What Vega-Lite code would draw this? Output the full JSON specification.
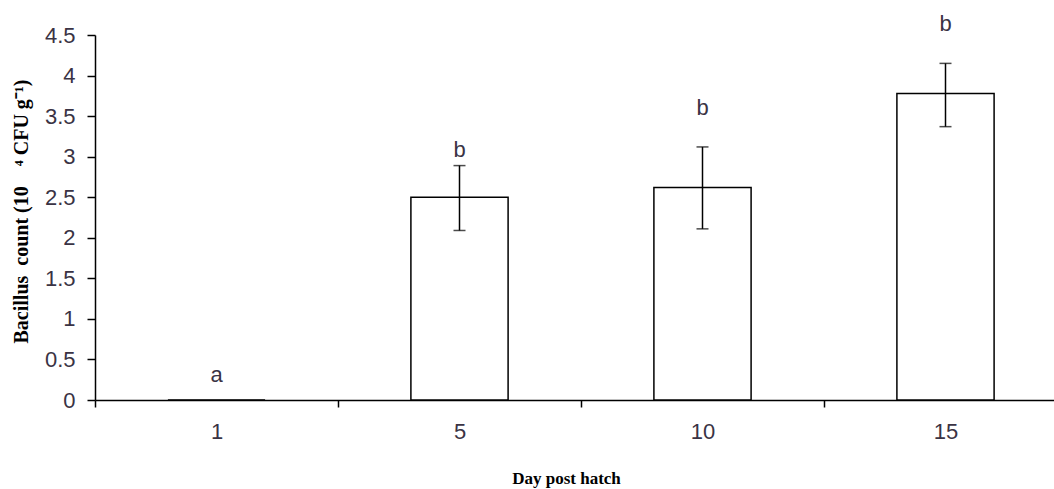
{
  "$schema": "https://vega.github.io/schema/vega-lite/v6.json",
  "autosize": {"type": "none"},
  "width": 972,
  "height": 365,
  "padding": {"left": 95, "top": 35, "right": 0, "bottom": 89},
  "config": {
    "background": "#ffffff",
    "view": {"stroke": null},
    "axis": {
      "domainColor": "#000000",
      "domainWidth": 1.5,
      "tickColor": "#000000",
      "tickWidth": 1.5,
      "grid": false,
      "labelFont": "Liberation Sans",
      "labelFontSize": 22,
      "labelColor": "#3a3344",
      "titleFont": "Liberation Serif",
      "titleFontWeight": "bold",
      "titleColor": "#000000"
    }
  },
  "data": {
    "values": [
      {"day": "1", "mean": 0, "lo": null, "hi": null, "letter": "a", "letter_y": 0.31},
      {"day": "5", "mean": 2.5, "lo": 2.09, "hi": 2.89, "letter": "b", "letter_y": 3.08},
      {"day": "10", "mean": 2.62, "lo": 2.11, "hi": 3.12, "letter": "b", "letter_y": 3.6},
      {"day": "15", "mean": 3.78, "lo": 3.37, "hi": 4.15, "letter": "b", "letter_y": 4.64}
    ]
  },
  "encoding": {
    "x": {
      "field": "day",
      "type": "ordinal",
      "sort": ["1", "5", "10", "15"],
      "scale": {"type": "band", "paddingInner": 0, "paddingOuter": 0},
      "title": "Day post hatch",
      "axis": {
        "labelAngle": 0,
        "tickBand": "extent",
        "tickSize": 7,
        "labelPadding": 14,
        "titleFontSize": 17,
        "titleX": 471,
        "titleY": 83,
        "titleBaseline": "alphabetic"
      }
    }
  },
  "layer": [
    {
      "mark": {"type": "bar", "fill": "#ffffff", "stroke": "#000000", "strokeWidth": 1.5, "width": {"band": 0.4}},
      "encoding": {
        "y": {
          "field": "mean",
          "type": "quantitative",
          "scale": {"domain": [0, 4.5], "nice": false},
          "title": "Bacillus\u2002count (10\u2002\u2002⁴ CFU g⁻¹)",
          "axis": {
            "values": [0, 0.5, 1, 1.5, 2, 2.5, 3, 3.5, 4, 4.5],
            "format": "~g",
            "tickSize": 8,
            "labelPadding": 12,
            "titleFontSize": 20,
            "titleAngle": 270,
            "titleAlign": "center",
            "titleBaseline": "middle",
            "titleX": -74,
            "titleY": 176
          }
        }
      }
    },
    {
      "transform": [{"filter": "datum.lo != null"}],
      "mark": {"type": "rule", "color": "#000000", "strokeWidth": 1.5},
      "encoding": {
        "y": {"field": "lo", "type": "quantitative"},
        "y2": {"field": "hi"}
      }
    },
    {
      "transform": [{"filter": "datum.lo != null"}],
      "mark": {"type": "tick", "color": "#000000", "size": 12, "thickness": 1.5, "orient": "horizontal"},
      "encoding": {"y": {"field": "lo", "type": "quantitative"}}
    },
    {
      "transform": [{"filter": "datum.lo != null"}],
      "mark": {"type": "tick", "color": "#000000", "size": 12, "thickness": 1.5, "orient": "horizontal"},
      "encoding": {"y": {"field": "hi", "type": "quantitative"}}
    },
    {
      "mark": {"type": "text", "font": "Liberation Sans", "fontSize": 22, "color": "#3a3344", "baseline": "middle"},
      "encoding": {
        "y": {"field": "letter_y", "type": "quantitative"},
        "text": {"field": "letter"}
      }
    }
  ]
}
